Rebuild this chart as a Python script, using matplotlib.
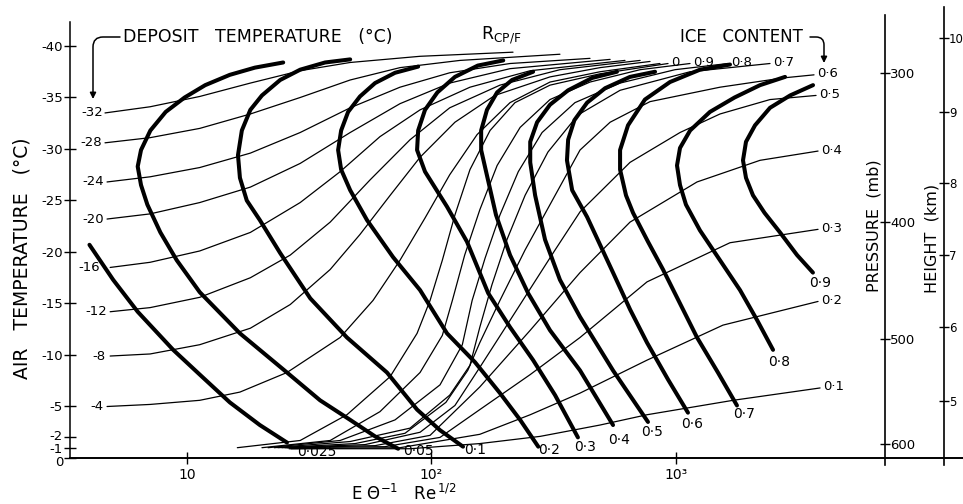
import matplotlib.pyplot as plt
from matplotlib.ticker import NullLocator
from matplotlib.transforms import ScaledTranslation

plt.rcParams["font.family"] = "DejaVu Sans"
plt.rcParams["mathtext.default"] = "regular"
plt.rcParams["axes.unicode_minus"] = False

# Points are (E theta^-1 Re^1/2, air temperature in degC)

# R_CP/F curves (heavy lines)
rcp_0025 = [(4.0, -20.7), (5.0, -17.3), (6.3, -14.2), (8.8, -10.5), (11.3, -8.1),
            (15.0, -5.4), (19.9, -3.2), (25.7, -1.5)]
rcp_005 = [(24.8, -38.4), (19.0, -37.9), (15.0, -37.2), (11.9, -36.2), (9.8, -35.0),
           (8.2, -33.6), (7.1, -31.8), (6.5, -29.9), (6.3, -28.3), (6.5, -26.5),
           (6.9, -24.6), (7.8, -21.9), (9.1, -19.2), (11.3, -16.1), (16.5, -12.1),
           (25.7, -8.3), (35.1, -5.6), (46.6, -3.7), (58.9, -2.1), (73.2, -0.9)]
rcp_01 = [(46.6, -38.7), (36.8, -38.4), (29.1, -37.7), (24.1, -36.7), (20.3, -35.2),
          (18.2, -33.8), (16.8, -31.8), (16.2, -29.4), (16.5, -27.2), (17.6, -25.0),
          (19.9, -23.1), (24.1, -19.9), (32.0, -15.5), (45.2, -11.7), (65.9, -8.3),
          (87.5, -4.7), (108.6, -2.7), (134.9, -1.1)]
rcp_02 = [(88.4, -38.0), (71.1, -37.4), (58.9, -36.4), (51.1, -35.1), (45.7, -33.6),
          (42.8, -31.8), (41.6, -29.9), (42.8, -28.0), (46.6, -26.0), (54.6, -23.1),
          (69.8, -19.5), (90, -16.3), (116, -12.1), (151, -9.3), (191, -6.3),
          (231, -3.7), (274, -1.1)]
rcp_03 = [(197, -38.6), (155, -38.1), (125, -37.0), (106, -35.5), (94.3, -33.8),
          (88.4, -31.8), (87.5, -29.9), (94.3, -27.8), (116, -24.4), (140, -21.0),
          (171, -16.0), (210, -12.7), (261, -9.5), (321, -6.1), (398, -2.0)]
rcp_04 = [(261, -37.5), (214, -36.7), (186, -35.5), (169, -33.8), (160, -31.8),
          (160, -29.9), (168, -27.7), (184, -23.6), (210, -19.7), (249, -16.0),
          (306, -12.4), (406, -8.5), (554, -3.2)]
rcp_05 = [(575, -37.5), (455, -36.9), (363, -35.7), (306, -34.3), (271, -32.6),
          (254, -30.7), (254, -28.7), (266, -25.5), (292, -21.2), (336, -17.3),
          (406, -13.7), (554, -8.5), (770, -3.5)]
rcp_06 = [(823, -37.5), (650, -37.0), (514, -35.9), (434, -34.5), (385, -32.8),
          (363, -30.9), (359, -28.9), (377, -26.0), (434, -23.4), (554, -18.0),
          (651, -14.4), (763, -11.2), (931, -7.6), (1122, -4.4)]
rcp_07 = [(1667, -38.2), (1256, -37.7), (947, -36.5), (748, -34.8), (638, -32.3),
          (592, -29.9), (592, -28.0), (626, -25.5), (669, -23.8), (770, -21.0),
          (887, -18.3), (1041, -15.0), (1222, -11.7), (1488, -8.3), (1780, -5.1)]
rcp_08 = [(2800, -37.0), (2212, -36.2), (1740, -35.0), (1380, -33.6), (1145, -31.8),
          (1041, -30.1), (1012, -28.4), (1041, -26.5), (1101, -24.6), (1256, -22.1),
          (1517, -19.2), (1832, -16.3), (2150, -13.4), (2500, -10.5)]
rcp_09 = [(3644, -36.2), (2937, -35.2), (2430, -34.0), (2110, -32.3), (1938, -30.7),
          (1884, -28.9), (1938, -27.2), (2070, -25.5), (2308, -23.8), (2670, -21.9),
          (3135, -19.7), (3640, -18.0)]

rcp_labels = ["0·025", "0·05", "0·1", "0·2", "0·3", "0·4", "0·5", "0·6", "0·7", "0·8", "0·9"]

# deposit temperature curves (dry growth)
dep_m32 = [(4.63, -33.5), (7.08, -34.1), (11.3, -35.1), (18.2, -36.4), (29.1, -37.6),
           (46.6, -38.4), (90, -39.0), (216, -39.4)]
dep_m28 = [(4.63, -30.6), (7.08, -31.1), (11.3, -32.0), (18.2, -33.4), (29.1, -35.0),
           (46.6, -36.7), (74.5, -37.9), (131, -38.6), (336, -39.2)]
dep_m24 = [(4.72, -26.8), (7.08, -27.3), (11.3, -28.2), (18.2, -29.6), (29.1, -31.6),
           (46.6, -34.0), (74.5, -36.0), (119, -37.4), (210, -38.3), (446, -38.8)]
dep_m20 = [(4.72, -23.2), (7.08, -23.7), (11.3, -24.8), (18.2, -26.3), (29.1, -28.6),
           (46.6, -31.6), (74.5, -34.4), (119, -36.4), (210, -37.8), (539, -38.7)]
dep_m16 = [(4.86, -18.5), (7.08, -19.0), (11.3, -20.1), (18.2, -21.9), (29.1, -24.8),
           (42.4, -27.8), (61.7, -31.2), (90, -33.8), (144, -36.0), (254, -37.6),
           (620, -38.6)]
dep_m12 = [(4.86, -14.2), (7.08, -14.6), (11.3, -15.6), (18.2, -17.5), (26.5, -19.7),
           (38.6, -22.9), (56.2, -27.0), (81.9, -30.9), (119, -34.0), (191, -36.2),
           (336, -37.7), (715, -38.6)]
dep_m8 = [(4.86, -9.9), (7.08, -10.1), (11.3, -11.0), (18.2, -12.6), (26.5, -14.9),
          (38.6, -18.3), (51.1, -21.7), (67.9, -25.5), (90, -29.2), (125, -32.6),
          (182, -35.2), (306, -37.0), (490, -37.9), (785, -38.5)]
dep_m4 = [(4.72, -5.0), (7.08, -5.2), (11.3, -5.6), (16.5, -6.4), (25.7, -8.3),
          (42.4, -11.7), (57.8, -15.3), (74.5, -19.2), (94.3, -23.3), (119, -27.5),
          (154, -31.4), (210, -34.5), (306, -36.5), (490, -37.5), (862, -38.3)]

dep_labels = ["-32", "-28", "-24", "-20", "-16", "-12", "-8", "-4"]

# ice content curves (wet growth)
ice_0 = [(16.1, -1.0), (29.1, -1.7), (45.2, -4.2), (67.9, -7.9), (87.5, -12.1),
         (98.9, -15.3), (111, -19.2), (125, -23.6), (144, -28.0), (174, -31.8),
         (220, -34.5), (306, -36.2), (490, -37.3), (930, -38.3)]
ice_09 = [(20.3, -1.0), (38.6, -1.7), (61.7, -4.5), (90, -8.3), (111, -11.9),
          (122, -15.3), (137, -19.7), (158, -24.1), (186, -28.4), (231, -32.1),
          (306, -34.8), (446, -36.5), (715, -37.7), (1144, -38.3)]
ice_08 = [(21.5, -1.0), (42.4, -1.7), (71.1, -3.7), (108.6, -7.1), (134, -11.0),
          (147, -15.3), (166, -19.4), (191, -23.6), (227, -27.8), (284, -31.6),
          (387, -34.5), (592, -36.4), (993, -37.7), (1635, -38.3)]
ice_07 = [(22.8, -1.0), (46.6, -1.6), (81.9, -2.9), (119, -6.1), (144, -9.0),
          (158, -12.7), (177, -16.8), (204, -21.2), (242, -25.5), (300, -29.7),
          (398, -33.3), (592, -35.7), (1144, -37.5), (2430, -38.3)]
ice_06 = [(23.6, -1.0), (48.8, -1.4), (78.1, -2.4), (114.8, -5.4), (141, -8.5),
          (158, -11.2), (191, -15.3), (242, -20.2), (306, -24.6), (406, -29.9),
          (539, -32.6), (785, -34.6), (1517, -36.0), (2747, -36.9), (3678, -37.2)]
ice_05 = [(24.5, -1.0), (53.6, -1.3), (90, -2.5), (125, -5.1), (158, -8.8),
          (231, -14.9), (321, -20.2), (406, -23.9), (650, -28.7), (1041, -31.6),
          (1517, -33.4), (2430, -34.8), (3749, -35.2)]
ice_04 = [(25.2, -1.0), (58.9, -1.2), (98.9, -2.2), (158, -6.9), (254, -12.4),
          (406, -18.0), (650, -22.9), (1222, -26.8), (2211, -28.9), (3820, -29.8)]
ice_03 = [(25.7, -1.0), (64.7, -1.1), (108.6, -2.0), (158, -4.7), (254, -8.1),
          (406, -11.7), (763, -17.1), (1667, -20.9), (3820, -22.2)]
ice_02 = [(26.2, -0.9), (74.5, -1.0), (158, -2.3), (254, -4.2), (406, -6.3),
          (763, -9.5), (1560, -12.9), (3820, -15.2)]
ice_01 = [(26.7, -0.9), (81.9, -0.9), (158, -1.4), (279, -2.1), (490, -3.2),
          (763, -4.2), (1715, -5.6), (3893, -6.8)]

ice_labels = ["0", "0·9", "0·8", "0·7", "0·6", "0·5", "0·4", "0·3", "0·2", "0·1"]

# axis ticks
temp_ticks = [0, -1, -2, -5, -10, -15, -20, -25, -30, -35, -40]
x_ticks = [10, 100, 1000]
x_tick_labels = ["10", "10²", "10³"]
pressure_mb = ["300", "400", "500", "600"]
pressure_at_temp = [-37.4, -22.9, -11.5, -1.3]
height_km = ["10", "9", "8", "7", "6", "5"]
height_at_temp = [-40.8, -33.6, -26.7, -19.7, -12.7, -5.5]

W, H = 963, 504
fig = plt.figure(figsize=(W / 100, H / 100), dpi=100)


def fx(px):
    return px / W


def fy(py):
    return 1 - py / H


ax = fig.add_axes([fx(70), fy(458), fx(963) - fx(70), fy(22) - fy(458)])
ax.set_xscale("log")
ax.set_xlim(3.33, 14960)
ax.set_ylim(0, -42.33)
ax.patch.set_visible(False)

thin = dict(color="black", lw=0.9, solid_capstyle="round", solid_joinstyle="round")
thick = dict(color="black", lw=2.9, solid_capstyle="round", solid_joinstyle="round")

dep_curves = [dep_m32, dep_m28, dep_m24, dep_m20, dep_m16, dep_m12, dep_m8, dep_m4]
dep_gaps = [-2, -3, -3, -3, -10, -3, -5, -4]
for label, pts, gap in zip(dep_labels, dep_curves, dep_gaps):
    xs, ts = zip(*pts)
    ax.plot(xs, ts, **thin)
    ax.annotate(label, (xs[0], ts[0]), xytext=(gap, 0), textcoords="offset pixels",
                ha="right", va="center", fontsize=9.5)

ice_curves = [ice_0, ice_09, ice_08, ice_07, ice_06, ice_05, ice_04, ice_03, ice_02, ice_01]
for label, pts in zip(ice_labels, ice_curves):
    xs, ts = zip(*pts)
    ax.plot(xs, ts, **thin)
    ax.annotate(label, (xs[-1], ts[-1]), xytext=(3, 1), textcoords="offset pixels",
                ha="left", va="center", fontsize=9.5)

rcp_curves = [rcp_0025, rcp_005, rcp_01, rcp_02, rcp_03, rcp_04, rcp_05, rcp_06,
              rcp_07, rcp_08, rcp_09]
rcp_offsets = [(30, -9), (20, -2), (12, -3), (11, -3), (7, -10), (6, -15),
               (4, -10), (4, -11), (7, -9), (6, -12), (7, -10)]
for label, pts, off in zip(rcp_labels, rcp_curves, rcp_offsets):
    xs, ts = zip(*pts)
    ax.plot(xs, ts, **thick)
    ax.annotate(label, (xs[-1], ts[-1]), xytext=off, textcoords="offset pixels",
                ha="center", va="center", fontsize=10)

# axes styling
for side in ("top", "right"):
    ax.spines[side].set_visible(False)
ax.spines["left"].set_linewidth(1.1)
ax.spines["bottom"].set_linewidth(1.4)
ax.set_yticks(temp_ticks)
ax.set_yticklabels([str(t) for t in temp_ticks])
ax.set_xticks(x_ticks)
ax.set_xticklabels(x_tick_labels)
ax.xaxis.set_minor_locator(NullLocator())
ax.tick_params(axis="y", direction="inout", length=8, width=1, labelsize=9.5, pad=1)
ax.tick_params(axis="x", direction="inout", length=8, width=1, labelsize=10, pad=3)

# the 0, -1, -2 labels sit close together; spread them a little
nudge = {0: -2.5, -1: 0, -2: 2.5}
for tick, t in zip(ax.yaxis.get_major_ticks(), temp_ticks):
    if t in nudge:
        lab = tick.label1
        lab.set_transform(lab.get_transform()
                          + ScaledTranslation(0, nudge[t] / 100, fig.dpi_scale_trans))


def side_axis(px, top, bottom, t_top, t_bottom, ticks, labels, size):
    a = fig.add_axes([fx(px), fy(bottom), 0.0001, fy(top) - fy(bottom)])
    a.set_ylim(t_bottom, t_top)
    a.patch.set_visible(False)
    for side in ("top", "bottom", "left"):
        a.spines[side].set_visible(False)
    a.spines["right"].set_linewidth(1.2)
    a.set_xticks([])
    a.yaxis.tick_right()
    a.set_yticks(ticks)
    a.set_yticklabels(labels)
    a.tick_params(axis="y", direction="inout", length=7, width=1, labelsize=size, pad=0)
    return a


side_axis(885, 15, 465, -43.0, 0.7, pressure_at_temp, pressure_mb, 9.5)
side_axis(944, 7, 465, -43.8, 0.7, height_at_temp, height_km, 8.5)

# titles and axis names
fig.text(fx(22), fy(258), "AIR   TEMPERATURE   (°C)", rotation=90,
         ha="center", va="center", fontsize=13.5)
fig.text(fx(874), fy(226), "PRESSURE  (mb)", rotation=90,
         ha="center", va="center", fontsize=11.5)
fig.text(fx(932), fy(238), "HEIGHT  (km)", rotation=90,
         ha="center", va="center", fontsize=11.5)
fig.text(fx(404), fy(494), r"E $\Theta^{-1}$   Re$^{\,1/2}$",
         ha="center", va="center", fontsize=12)
fig.text(fx(123), fy(37), "DEPOSIT   TEMPERATURE   (°C)",
         ha="left", va="center", fontsize=12.5)
fig.text(fx(481), fy(35), r"R$_{CP/F}$", ha="left", va="center", fontsize=12.5)
fig.text(fx(680), fy(37), "ICE   CONTENT", ha="left", va="center", fontsize=12)

arrow = dict(arrowstyle="-|>", lw=1.1, color="black", mutation_scale=9,
             shrinkA=0, shrinkB=0)
fig.add_artist(plt.Annotation(
    "", xy=(fx(93), fy(99)), xycoords="figure fraction",
    xytext=(fx(120), fy(37)), textcoords="figure fraction",
    arrowprops=dict(connectionstyle="angle,angleA=180,angleB=90,rad=10", **arrow)))
fig.add_artist(plt.Annotation(
    "", xy=(fx(824), fy(63)), xycoords="figure fraction",
    xytext=(fx(810), fy(37)), textcoords="figure fraction",
    arrowprops=dict(connectionstyle="angle,angleA=0,angleB=90,rad=8", **arrow)))

fig.savefig("out.png", dpi=100, facecolor="white")
